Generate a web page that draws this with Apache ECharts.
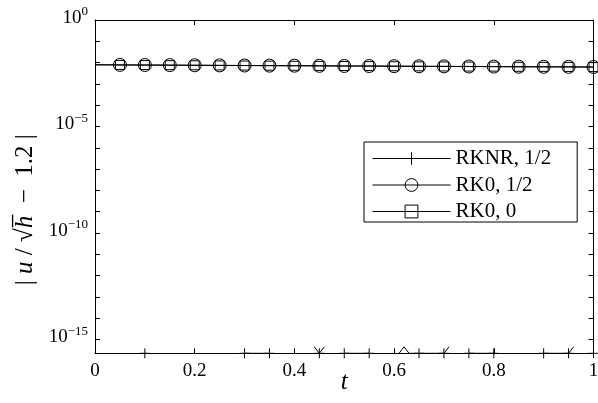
<!DOCTYPE html>
<html>
<head>
<meta charset="utf-8">
<script src="https://cdn.jsdelivr.net/npm/echarts@6/dist/echarts.min.js"></script>
<style>html,body{margin:0;padding:0;background:#fff}#c{width:598px;height:403px}</style>
</head>
<body>
<div id="c"></div>
<script>
// ---- data ----
var seriesNames = ['RKNR, 1/2', 'RK0, 1/2', 'RK0, 0'];
var xTicks = [0, 0.2, 0.4, 0.6, 0.8, 1];
var yLabelTicks = [1e-15, 1e-10, 1e-5, 1];
var yMinorTicks = [1e-15, 1e-14, 1e-13, 1e-12, 1e-11, 1e-10, 1e-9, 1e-8, 1e-7, 1e-6, 1e-5, 1e-4, 1e-3, 1e-2, 1e-1, 1];
var yMin = 2.22e-16, yMax = 1;

// RK0 series, sampled every 0.05
var rk0T = [0, 0.05, 0.1, 0.15, 0.2, 0.25, 0.3, 0.35, 0.4, 0.45, 0.5, 0.55, 0.6, 0.65, 0.7, 0.75, 0.8, 0.85, 0.9, 0.95, 1.0];
var rk0HalfV = [7.9e-3, 7.8e-3, 7.7e-3, 7.6e-3, 7.5e-3, 7.4e-3, 7.3e-3, 7.2e-3, 7.15e-3, 7.05e-3, 6.95e-3,
                6.9e-3, 6.8e-3, 6.7e-3, 6.65e-3, 6.55e-3, 6.5e-3, 6.4e-3, 6.35e-3, 6.3e-3, 6.2e-3];
var rk0ZeroV = [7.85e-3, 7.75e-3, 7.65e-3, 7.55e-3, 7.45e-3, 7.35e-3, 7.25e-3, 7.15e-3, 7.1e-3, 7.0e-3, 6.9e-3,
                6.85e-3, 6.75e-3, 6.65e-3, 6.6e-3, 6.5e-3, 6.45e-3, 6.35e-3, 6.3e-3, 6.25e-3, 6.15e-3];

// RKNR series (null = exact zero, not drawn on a log axis)
var rknrT = [0, 0.05, 0.1, 0.15, 0.2, 0.25, 0.3, 0.35, 0.4, 0.44, 0.45, 0.46, 0.47, 0.5, 0.55, 0.6, 0.61, 0.62, 0.63,
             0.65, 0.7, 0.71, 0.72, 0.75, 0.8, 0.85, 0.9, 0.95, 0.96, 0.97, 1.0];
var rknrV = [2.22e-16, null, 2.22e-16, null, null, null, 2.22e-16, 2.22e-16, null, 4.44e-16, 2.22e-16, 4.44e-16, null,
             2.22e-16, 2.22e-16, null, 2.22e-16, 4.44e-16, 2.22e-16, 2.22e-16, 2.22e-16, 4.44e-16, null,
             2.22e-16, 2.22e-16, null, 2.22e-16, 2.22e-16, 4.44e-16, null, 2.22e-16];

// ---- build ----
function isMarker(t) { return t > 0 && Math.abs(t * 20 - Math.round(t * 20)) < 1e-9; }
function build(ts, vs) {
  return ts.map(function (t, i) {
    var item = { value: [t, vs[i] == null ? null : vs[i]] };
    if (!isMarker(t)) item.symbol = 'none';
    return item;
  });
}
var FONT = 'Liberation Serif';
var plusPath = 'path://M0,5L10,5M5,0L5,10';

function supLabel(v) {
  var e = Math.round(Math.log10(v));
  return '{b|10}{s|' + (e < 0 ? '\u2212' + (-e) : String(e)) + '}';
}

var markerStyle = { color: 'rgba(0,0,0,0)', borderColor: '#000', borderWidth: 1 };
var lineStyle = { color: '#000', width: 1 };

var chart = echarts.init(document.getElementById('c'), null, { renderer: 'canvas' });
chart.setOption({
  animation: false,
  backgroundColor: '#fff',
  grid: { left: 95, right: 4.5, top: 20, bottom: 49.7, containLabel: false, outerBoundsMode: 'none' },
  legend: {
    data: seriesNames,
    orient: 'vertical',
    left: 364, top: 142,
    itemWidth: 78, itemHeight: 16, itemGap: 5.5,
    padding: [6, 26, 0, 8],
    backgroundColor: '#fff',
    borderColor: '#000', borderWidth: 1, borderRadius: 0,
    textStyle: { fontFamily: FONT, fontSize: 21, color: '#000' },
    lineStyle: { color: '#000', width: 1, opacity: 1, type: 'solid' },
    itemStyle: { color: 'rgba(0,0,0,0)', borderColor: '#000', borderWidth: 1, opacity: 1 },
    selectedMode: false
  },
  xAxis: [{
    type: 'value', min: 0, max: 1, interval: 0.2, position: 'bottom',
    axisLine: { show: true, onZero: false, lineStyle: { color: '#000', width: 1 } },
    axisTick: { show: true, inside: true, length: 5, lineStyle: { color: '#000' } },
    axisLabel: { fontFamily: FONT, fontSize: 19, color: '#000', margin: 8 },
    splitLine: { show: false },
    name: 't', nameLocation: 'middle', nameGap: 17, nameMoveOverlap: false,
    nameTextStyle: { fontFamily: FONT, fontSize: 25, fontStyle: 'italic', color: '#000' }
  }, {
    type: 'value', min: 0, max: 1, interval: 0.2, position: 'top',
    axisLine: { show: true, onZero: false, lineStyle: { color: '#000', width: 1 } },
    axisTick: { show: true, inside: true, length: 5, lineStyle: { color: '#000' } },
    axisLabel: { show: false }, splitLine: { show: false }
  }],
  yAxis: [{
    type: 'log', logBase: 10, min: yMin, max: yMax, position: 'left',
    axisLine: { show: true, onZero: false, lineStyle: { color: '#000', width: 1 } },
    axisTick: { show: true, inside: true, length: 5, lineStyle: { color: '#000' }, customValues: yMinorTicks },
    axisLabel: {
      customValues: yLabelTicks, margin: 7, formatter: supLabel,
      rich: {
        b: { fontFamily: FONT, fontSize: 19, lineHeight: 19, color: '#000', verticalAlign: 'bottom', padding: [0, 0, 2, 0] },
        s: { fontFamily: FONT, fontSize: 13, lineHeight: 13, color: '#000', verticalAlign: 'bottom', padding: [0, 0, 11, 0] }
      }
    },
    splitLine: { show: false }, minorTick: { show: false },
    name: '| {i|u} / \u221A{i|h\u0305}  \u2212  1.2 |', nameLocation: 'middle', nameGap: 57, nameRotate: 90,
    nameMoveOverlap: false,
    nameTextStyle: {
      fontFamily: FONT, fontSize: 25, color: '#000', padding: [0, 46, 0, 0],
      rich: { i: { fontFamily: FONT, fontSize: 25, fontStyle: 'italic', color: '#000' } }
    }
  }, {
    type: 'log', logBase: 10, min: yMin, max: yMax, position: 'right',
    axisLine: { show: true, onZero: false, lineStyle: { color: '#000', width: 1 } },
    axisTick: { show: true, inside: true, length: 5, lineStyle: { color: '#000' }, customValues: yMinorTicks },
    axisLabel: { show: false }, splitLine: { show: false }
  }],
  series: [{
    name: seriesNames[0], type: 'line', xAxisIndex: 0, yAxisIndex: 0,
    data: build(rknrT, rknrV), symbol: plusPath, symbolSize: 10,
    showAllSymbol: true, connectNulls: false,
    lineStyle: lineStyle, itemStyle: markerStyle, z: 2
  }, {
    name: seriesNames[1], type: 'line', xAxisIndex: 0, yAxisIndex: 0,
    data: build(rk0T, rk0HalfV), symbol: 'circle', symbolSize: 13,
    showAllSymbol: true, lineStyle: lineStyle, itemStyle: markerStyle, z: 3
  }, {
    name: seriesNames[2], type: 'line', xAxisIndex: 0, yAxisIndex: 0,
    data: build(rk0T, rk0ZeroV), symbol: 'rect', symbolSize: 9,
    showAllSymbol: true, lineStyle: lineStyle, itemStyle: markerStyle, z: 4
  }]
});
</script>
</body>
</html>
